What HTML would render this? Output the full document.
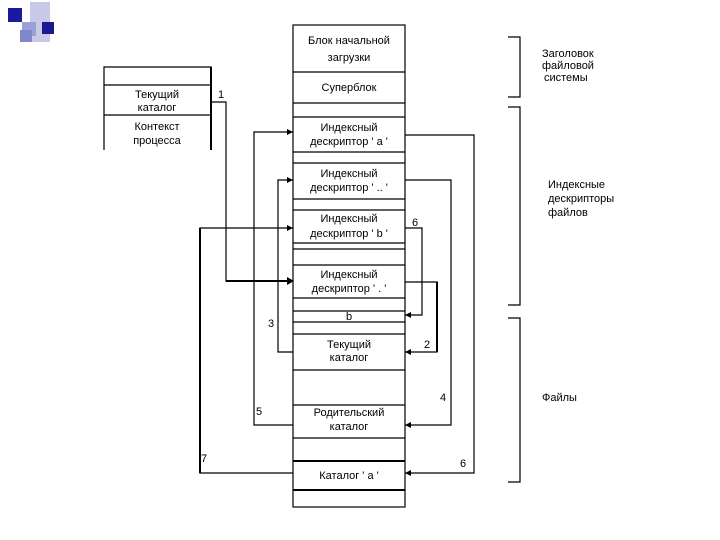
<!DOCTYPE html>
<html><head><meta charset="utf-8"><style>
html,body{margin:0;padding:0;background:#fff;}
svg{display:block;}
text{font-family:"Liberation Sans","DejaVu Sans",sans-serif;font-size:11px;fill:#000;}
</style></head><body>
<svg width="720" height="540" viewBox="0 0 720 540" xmlns="http://www.w3.org/2000/svg">
<rect x="0" y="0" width="720" height="540" fill="#fff"/>
<rect x="8" y="8" width="14" height="14" fill="#1a1aa0"/>
<rect x="30" y="2" width="20" height="40" fill="#c8cae8"/>
<rect x="22" y="22" width="14" height="14" fill="#9aa0d8"/>
<rect x="42" y="22" width="12" height="12" fill="#1a1a90"/>
<rect x="20" y="30" width="12" height="12" fill="#8088c8"/>
<g stroke="#000" stroke-width="1.2" fill="none">
<rect x="293" y="25" width="112" height="482"/>
<line x1="293" y1="72" x2="405" y2="72"/>
<line x1="293" y1="103" x2="405" y2="103"/>
<line x1="293" y1="117" x2="405" y2="117"/>
<line x1="293" y1="152" x2="405" y2="152"/>
<line x1="293" y1="163" x2="405" y2="163"/>
<line x1="293" y1="199" x2="405" y2="199"/>
<line x1="293" y1="210" x2="405" y2="210"/>
<line x1="293" y1="243" x2="405" y2="243"/>
<line x1="293" y1="249" x2="405" y2="249"/>
<line x1="293" y1="265" x2="405" y2="265"/>
<line x1="293" y1="298" x2="405" y2="298"/>
<line x1="293" y1="311" x2="405" y2="311"/>
<line x1="293" y1="322" x2="405" y2="322"/>
<line x1="293" y1="334" x2="405" y2="334"/>
<line x1="293" y1="370" x2="405" y2="370"/>
<line x1="293" y1="405" x2="405" y2="405"/>
<line x1="293" y1="438" x2="405" y2="438"/>
<line x1="293" y1="461" x2="405" y2="461" stroke-width="2"/>
<line x1="293" y1="490" x2="405" y2="490" stroke-width="2"/>
<polyline points="104,150 104,67 211,67 211,150"/>
<line x1="211" y1="67" x2="211" y2="150" stroke-width="2"/>
<line x1="104" y1="85" x2="211" y2="85"/>
<line x1="104" y1="115" x2="211" y2="115"/>
<polyline points="211,102 226,102 226,281 293,281" />
<line x1="226" y1="281" x2="293" y2="281" stroke-width="2"/>
<polyline points="293,132 254,132 254,425 293,425"/>
<polyline points="293,180 278,180 278,352 293,352"/>
<polyline points="293,228 200,228 200,473 293,473"/>
<line x1="200" y1="228" x2="200" y2="473" stroke-width="2"/>
<polyline points="405,135 474,135 474,473 405,473"/>
<polyline points="405,180 451,180 451,425 405,425"/>
<polyline points="405,228 422,228 422,315 405,315"/>
<polyline points="405,282 437,282 437,352 405,352"/>
<line x1="437" y1="282" x2="437" y2="352" stroke-width="2"/>
<polyline points="508,37 520,37 520,97 508,97"/>
<polyline points="508,107 520,107 520,305 508,305"/>
<polyline points="508,318 520,318 520,482 508,482"/>
</g>
<g fill="#000">
<polygon points="293,132 287,129 287,135"/>
<polygon points="293,180 287,177 287,183"/>
<polygon points="293,228 287,225 287,231"/>
<polygon points="294,281 287,277 287,285"/>
<polygon points="405,315 411,312 411,318"/>
<polygon points="405,352 411,349 411,355"/>
<polygon points="405,425 411,422 411,428"/>
<polygon points="405,473 411,470 411,476"/>
</g>
<g text-anchor="middle">
<text x="349" y="44">Блок начальной</text>
<text x="349" y="61">загрузки</text>
<text x="349" y="91">Суперблок</text>
<text x="349" y="131">Индексный</text>
<text x="349" y="145">дескриптор ' а '</text>
<text x="349" y="177">Индексный</text>
<text x="349" y="191">дескриптор ' .. '</text>
<text x="349" y="222">Индексный</text>
<text x="349" y="237">дескриптор ' b '</text>
<text x="349" y="278">Индексный</text>
<text x="349" y="292">дескриптор ' . '</text>
<text x="349" y="320">b</text>
<text x="349" y="348">Текущий</text>
<text x="349" y="361">каталог</text>
<text x="349" y="416">Родительский</text>
<text x="349" y="430">каталог</text>
<text x="349" y="479">Каталог ' а '</text>
<text x="157" y="98">Текущий</text>
<text x="157" y="111">каталог</text>
<text x="157" y="130">Контекст</text>
<text x="157" y="144">процесса</text>
</g>
<text x="218" y="98">1</text>
<text x="268" y="327">3</text>
<text x="424" y="348">2</text>
<text x="412" y="226">6</text>
<text x="440" y="401">4</text>
<text x="256" y="415">5</text>
<text x="201" y="462">7</text>
<text x="460" y="467">6</text>
<text x="542" y="57">Заголовок</text>
<text x="542" y="69">файловой</text>
<text x="544" y="81">системы</text>
<text x="548" y="188">Индексные</text>
<text x="548" y="202">дескрипторы</text>
<text x="548" y="216">файлов</text>
<text x="542" y="401">Файлы</text>
</svg>
</body></html>
